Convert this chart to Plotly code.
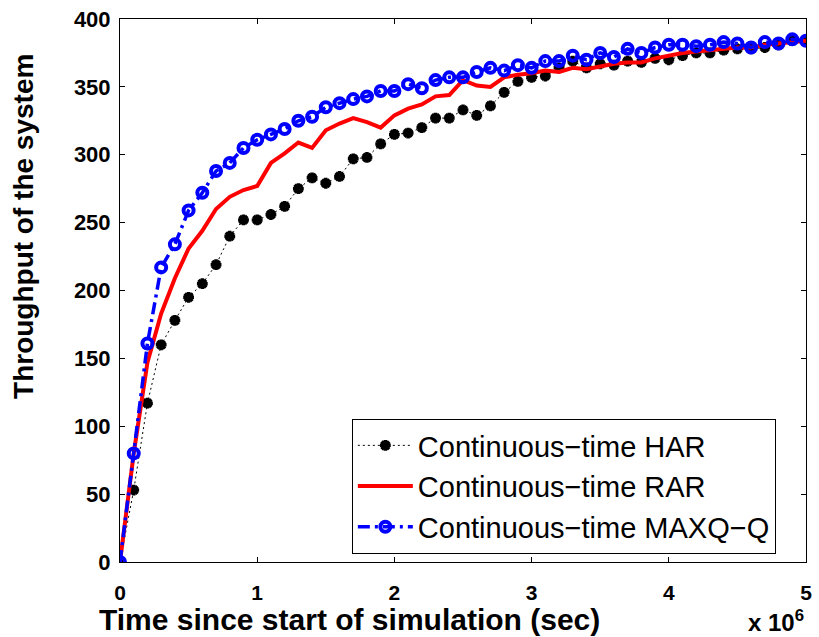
import plotly.graph_objects as go

# time in units of 1e6 s
time_m = [0.0, 0.1, 0.2, 0.3, 0.4, 0.5, 0.6, 0.7, 0.8, 0.9,
          1.0, 1.1, 1.2, 1.3, 1.4, 1.5, 1.6, 1.7, 1.8, 1.9,
          2.0, 2.1, 2.2, 2.3, 2.4, 2.5, 2.6, 2.7, 2.8, 2.9,
          3.0, 3.1, 3.2, 3.3, 3.4, 3.5, 3.6, 3.7, 3.8, 3.9,
          4.0, 4.1, 4.2, 4.3, 4.4, 4.5, 4.6, 4.7, 4.8, 4.9, 5.0]

har = [0, 53, 117, 160, 178, 195, 205, 219, 240, 252,
       252, 256, 262, 275, 283, 279, 284, 297, 298, 308,
       315, 316, 320, 327, 327, 333, 329, 336, 346, 354,
       357, 358, 364, 369, 364, 367, 366, 369, 368, 371,
       370, 373, 375, 375, 377, 378, 378, 379, 381, 384, 384]

rar = [0, 80, 147, 183, 209, 231, 244, 260, 269, 274,
       277, 294, 301, 309, 305, 318, 323, 327, 324, 320,
       329, 334, 337, 343, 344, 355, 351, 350, 357, 359,
       360, 362, 361, 364, 363, 365, 367, 368, 368, 371,
       373, 375, 376, 377, 378, 379, 379, 381, 382, 383, 384]

maxq = [0, 80, 161, 217, 234, 259, 272, 288, 294, 305,
        311, 315, 319, 325, 328, 335, 338, 341, 343, 347,
        347, 352, 349, 355, 357, 357, 361, 364, 362, 366,
        364, 369, 369, 373, 370, 375, 372, 378, 375, 379,
        381, 381, 380, 381, 383, 382, 379, 383, 382, 385, 384]

x_ticks = [0, 1, 2, 3, 4, 5]
y_ticks = [0, 50, 100, 150, 200, 250, 300, 350, 400]

names = ["Continuous\u2212time HAR", "Continuous\u2212time RAR", "Continuous\u2212time MAXQ\u2212Q"]

FONT = "Liberation Sans, Arial, sans-serif"

fig = go.Figure()
fig.add_trace(go.Scatter(
    x=time_m, y=har, name=names[0], mode="lines+markers",
    line=dict(color="black", width=1, dash="2px,3px"),
    marker=dict(symbol="asterisk-open", size=9, color="black",
                line=dict(color="black", width=3.5)),
))
fig.add_trace(go.Scatter(
    x=time_m, y=rar, name=names[1], mode="lines",
    line=dict(color="#ff0000", width=4),
))
fig.add_trace(go.Scatter(
    x=time_m, y=maxq, name=names[2], mode="lines+markers",
    line=dict(color="#0000ff", width=3.5, dash="12px,5px,3px,5px"),
    marker=dict(symbol="circle-open", size=10, color="#0000ff",
                line=dict(color="#0000ff", width=4)),
))

axis_common = dict(
    showgrid=False, zeroline=False, showline=True, linecolor="black", linewidth=1,
    mirror="ticks", ticks="inside", ticklen=5, tickcolor="black", tickwidth=1,
)

fig.update_xaxes(range=[0, 5], tickvals=x_ticks, ticktext=[str(v) for v in x_ticks],
                 ticklabelstandoff=12,
                 tickfont=dict(family=FONT, size=21, color="black", weight="bold"),
                 **axis_common)
fig.update_yaxes(range=[0, 400], tickvals=y_ticks, ticktext=[str(v) for v in y_ticks],
                 ticklabelstandoff=4,
                 tickfont=dict(family=FONT, size=22, color="black", weight="bold"),
                 **axis_common)

fig.update_layout(
    width=819, height=637,
    margin=dict(l=120, r=7, t=16, b=75),
    paper_bgcolor="white", plot_bgcolor="white",
    showlegend=True,
    legend=dict(
        x=0.647, y=0.0147, xanchor="center", yanchor="bottom",
        bgcolor="white", bordercolor="black", borderwidth=1,
        font=dict(family=FONT, size=29, color="black"),
        itemwidth=55, tracegroupgap=0,
    ),
    annotations=[
        dict(text="<b>Time since start of simulation (sec)</b>", xref="paper", yref="paper",
             x=0.334, y=0, xanchor="center", yanchor="middle", yshift=-57, showarrow=False,
             font=dict(family=FONT, size=30, color="black")),
        dict(text="<b>Throughput of the system</b>", xref="paper", yref="paper",
             x=0, y=0.617, xanchor="center", yanchor="middle", xshift=-96, textangle=-90,
             showarrow=False, font=dict(family=FONT, size=28, color="black")),
        dict(text="<b>x 10<sup>6</sup></b>", xref="paper", yref="paper",
             x=1.0, y=0, xanchor="right", yanchor="middle", yshift=-59, showarrow=False,
             font=dict(family=FONT, size=24, color="black")),
    ],
)

fig.write_html("out.html")
